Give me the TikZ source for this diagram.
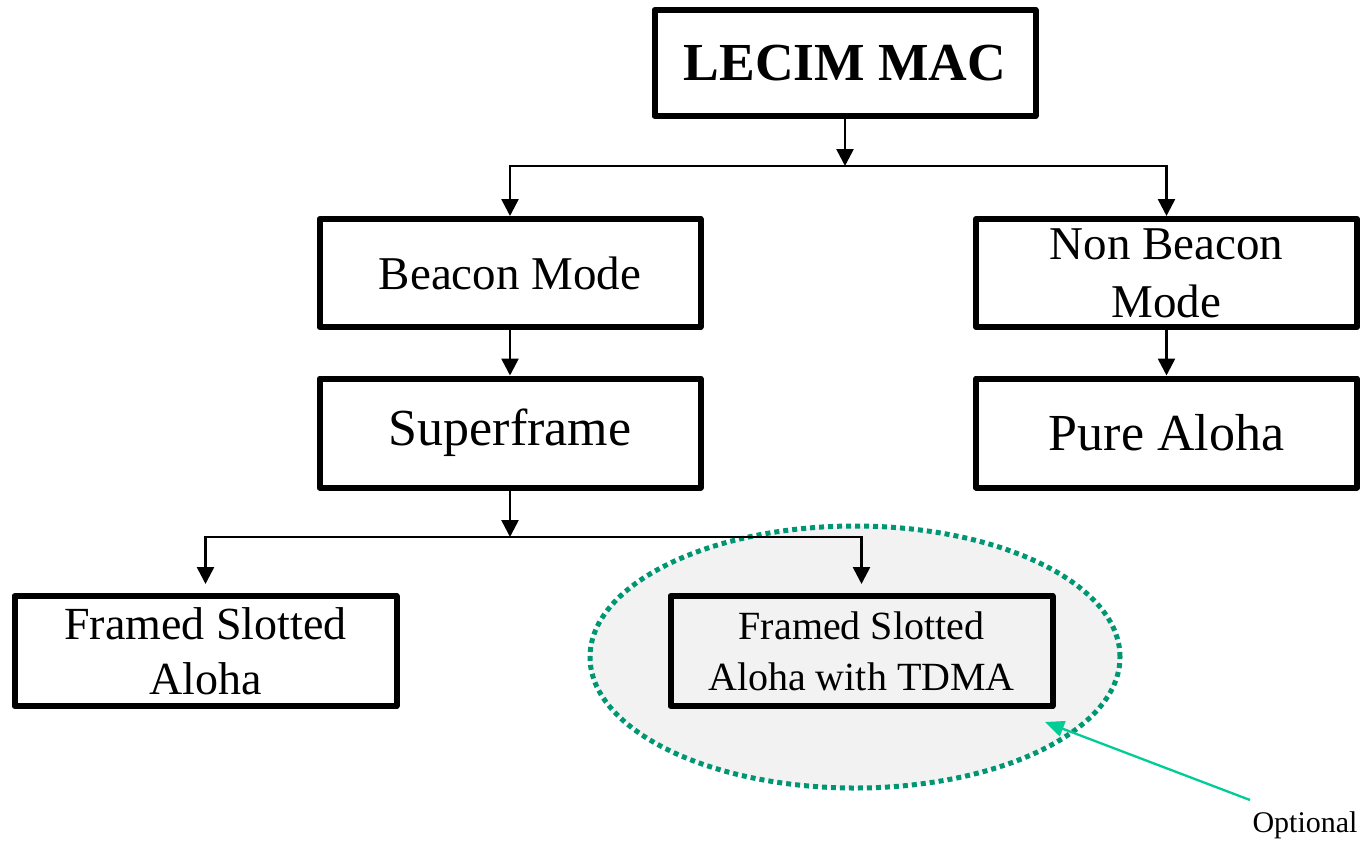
\documentclass[tikz,border=0pt]{standalone}
\usepackage{fontspec}
\setmainfont{Liberation Serif}
\usetikzlibrary{arrows.meta}
\definecolor{dotteal}{RGB}{0,150,115}
\definecolor{arrteal}{RGB}{0,204,150}
\definecolor{ellfill}{RGB}{242,242,242}
\begin{document}
\begin{tikzpicture}[x=1pt,y=-1pt,
  box/.style={draw, line width=6pt, line join=round, fill=white, minimum width=381pt, minimum height=106pt, inner sep=0pt, align=center},
  conn/.style={line width=2.6pt, -{Triangle[length=17pt,width=17pt]}}]
\useasboundingbox (0,0) rectangle (1365,841);
% optional region
\draw[dotteal, fill=ellfill, line width=5pt, dash pattern=on 5pt off 4pt] (855,657) ellipse [x radius=265pt, y radius=131pt];
% boxes
\node[box, font=\fontsize{53.5}{60}\selectfont\bfseries] (lecim) at (845,63) {LECIM MAC};
\node[box, minimum height=108pt, font=\fontsize{47}{56}\selectfont] (beacon) at (510,273) {Beacon Mode};
\node[box, minimum height=109pt, font=\fontsize{52}{60}\selectfont] (super) at (510,433) {Superframe};
\node[box, minimum height=108pt, font=\fontsize{47}{56}\selectfont] (nonb) at (1166.5,273) {Non Beacon\\[2pt]Mode};
\node[box, minimum height=109pt, font=\fontsize{52}{60}\selectfont] (pure) at (1166.5,433) {Pure Aloha};
\node[box, minimum width=382pt, minimum height=110pt, font=\fontsize{46}{55}\selectfont] (fsa) at (205.5,651) {Framed Slotted\\Aloha};
\node[box, minimum width=382pt, minimum height=110pt, fill=ellfill, font=\fontsize{40}{51}\selectfont] (tdma) at (861.5,651) {Framed Slotted\\Aloha with TDMA};
\node[font=\fontsize{30}{36}\selectfont, anchor=base west] (opt) at (1249,832) {Optional};
% junctions
\coordinate (j1) at (845,166);
\coordinate (j2) at (510,537);
\coordinate (optstart) at (1250,800);
\coordinate (opttip) at (1045,722);
% connectors
\draw[conn] (lecim.south) -- (j1);
\draw[conn] (j1) -| (beacon.north);
\draw[conn] (j1) -| (nonb.north);
\draw[conn] (beacon.south) -- (super.north);
\draw[conn] (nonb.south) -- (pure.north);
\draw[conn] (super.south) -- (j2);
\draw[conn, shorten >=9pt] (j2) -| (fsa.north);
\draw[conn, shorten >=9pt] (j2) -| (tdma.north);
\draw[arrteal, line width=2.3pt, -{Triangle[length=19pt,width=16pt]}] (optstart) -- (opttip);
\end{tikzpicture}
\end{document}
